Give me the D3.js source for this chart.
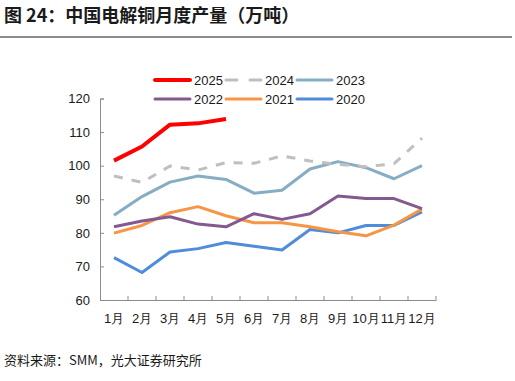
<!DOCTYPE html>
<html><head><meta charset="utf-8">
<script src="https://cdn.jsdelivr.net/npm/d3@7"></script>
<style>body{margin:0;background:#fff}svg{display:block}</style>
</head><body>
<script>
const months = ["1月","2月","3月","4月","5月","6月","7月","8月","9月","10月","11月","12月"];
const yTicks = [60,70,80,90,100,110,120];
const s2025 = [101.5,105.7,112.2,112.6,113.9];
const s2024 = [96.9,95.0,99.9,98.7,100.9,100.7,102.9,101.4,100.4,99.7,100.6,108.2];
const s2023 = [85.2,90.8,95.1,96.9,95.9,91.8,92.7,99.0,101.2,99.4,96.1,100.0];
const s2022 = [81.8,83.5,84.8,82.6,81.8,85.7,84.0,85.7,91.0,90.2,90.2,87.2];
const s2021 = [79.9,82.2,86.0,87.8,85.1,83.0,83.0,81.8,80.3,79.1,82.3,87.1];
const s2020 = [72.6,68.2,74.3,75.3,77.1,76.0,74.9,81.0,80.0,82.2,82.2,86.2];
const seriesNames = ["2025","2024","2023","2022","2021","2020"];

const series = [
  {name:"2025", data:s2025, color:"#ff0000", width:4, dash:null},
  {name:"2024", data:s2024, color:"#bfbfbf", width:3, dash:"9,9"},
  {name:"2023", data:s2023, color:"#86adc4", width:3, dash:null},
  {name:"2022", data:s2022, color:"#83598f", width:3, dash:null},
  {name:"2021", data:s2021, color:"#f79546", width:3, dash:null},
  {name:"2020", data:s2020, color:"#4f8cd9", width:3, dash:null}
];

const W=515,H=381;
const svg=d3.select("body").append("svg").attr("width",W).attr("height",H);
const font="Liberation Sans, Arial, sans-serif";

svg.append("text").attr("x",4).attr("y",22)
  .attr("font-family","Noto Sans CJK SC, sans-serif").attr("font-weight","bold")
  .attr("font-size",18).attr("fill","#1a1a1a").text("图 24：中国电解铜月度产量（万吨）");
svg.append("line").attr("x1",0).attr("x2",512).attr("y1",37).attr("y2",37)
  .attr("stroke","#8c8c8c").attr("stroke-width",2);

svg.append("text").attr("x",4).attr("y",365)
  .attr("font-family","Noto Sans CJK SC, sans-serif")
  .attr("font-size",13).attr("fill","#1a1a1a").text("资料来源：SMM，光大证券研究所");

const x=d3.scaleBand().domain(months).range([100,436]);
const y=d3.scaleLinear().domain([60,120]).range([300,98.5]);

const xAxis=svg.append("g").attr("transform","translate(0,300)")
  .call(d3.axisBottom(x).tickSize(0).tickPadding(14));
xAxis.select(".domain").attr("stroke","#8c8c8c");
xAxis.selectAll("text").attr("font-family",font).attr("font-size",13).attr("fill","#1a1a1a");
svg.append("g").selectAll("line").data(months.slice(1).concat(["end"])).join("line")
  .attr("x1",(d,i)=>100+(i+1)*x.bandwidth()).attr("x2",(d,i)=>100+(i+1)*x.bandwidth())
  .attr("y1",300).attr("y2",296).attr("stroke","#8c8c8c");

const yAxis=svg.append("g").attr("transform","translate(100,0)")
  .call(d3.axisLeft(y).tickValues(yTicks).tickSize(-4).tickPadding(10));
yAxis.select(".domain").attr("stroke","#8c8c8c");
yAxis.selectAll(".tick line").attr("stroke","#8c8c8c");
yAxis.selectAll("text").attr("font-family",font).attr("font-size",13).attr("fill","#1a1a1a");

const line=d3.line().x((d,i)=>x(months[i])+x.bandwidth()/2).y(d=>y(d));
[...series].reverse().forEach(s=>{
  svg.append("path").datum(s.data).attr("d",line).attr("fill","none")
    .attr("stroke",s.color).attr("stroke-width",s.width)
    .attr("stroke-dasharray",s.dash).attr("stroke-linejoin","round");
});

// legend
const legX=[155,226,297], legY=[80,99];
series.forEach((s,i)=>{
  const lx=legX[i%3], ly=legY[Math.floor(i/3)];
  const g=svg.append("g");
  g.append("line").attr("x1",lx).attr("x2",lx+35).attr("y1",ly).attr("y2",ly)
    .attr("stroke",s.color).attr("stroke-width",s.name==="2025"?4:3)
    .attr("stroke-dasharray",s.dash?"11,13":null).attr("stroke-linecap","round");
  g.append("text").attr("x",lx+39).attr("y",ly+5).attr("font-family",font)
    .attr("font-size",13).attr("fill","#1a1a1a").text(seriesNames[i]);
});
</script>
</body></html>
